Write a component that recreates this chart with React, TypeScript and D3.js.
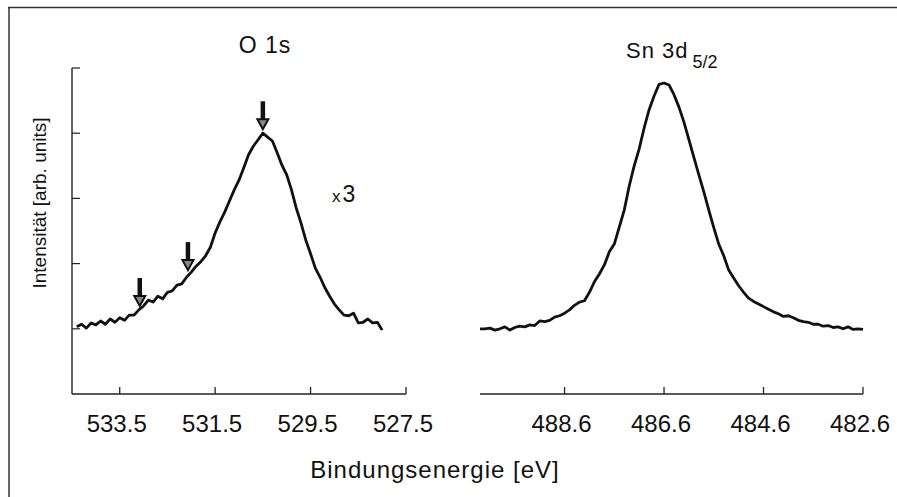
import React from "react";
import * as d3 from "d3";

// O 1s spectrum (binding energy in eV, intensity in arb. units)
const o1sEnergy = [
  534.4, 534.3, 534.2, 534.1, 534.0, 533.9, 533.8, 533.7, 533.6, 533.5,
  533.4, 533.3, 533.2, 533.1, 533.0, 532.9, 532.8, 532.7, 532.6, 532.5,
  532.4, 532.3, 532.2, 532.1, 532.0, 531.9, 531.8, 531.7, 531.6, 531.5,
  531.4, 531.3, 531.2, 531.1, 531.0, 530.9, 530.8, 530.7, 530.6, 530.5,
  530.4, 530.3, 530.2, 530.1, 530.0, 529.9, 529.8, 529.7, 529.6, 529.5,
  529.4, 529.3, 529.2, 529.1, 529.0, 528.9, 528.8, 528.7, 528.6, 528.5,
  528.4, 528.3, 528.2, 528.1, 528.0,
];
const o1sIntensity = [
  103, 107, 101, 109, 106, 112, 107, 115, 110, 117,
  113, 121, 121, 129, 135, 144, 141, 150, 146, 156,
  158, 167, 169, 179, 187, 196, 203, 212, 225, 247,
  264, 279, 296, 313, 328, 347, 367, 380, 390, 400,
  394, 388, 370, 351, 336, 313, 285, 262, 236, 215,
  193, 179, 163, 150, 138, 129, 121, 120, 124, 109,
  110, 115, 109, 110, 98,
];

// Sn 3d5/2 spectrum
const snEnergy = [
  490.3, 490.2, 490.1, 490.0, 489.9, 489.8, 489.7, 489.6, 489.5, 489.4,
  489.3, 489.2, 489.1, 489.0, 488.9, 488.8, 488.7, 488.6, 488.5, 488.4,
  488.3, 488.2, 488.1, 488.0, 487.9, 487.8, 487.7, 487.6, 487.5, 487.4,
  487.3, 487.2, 487.1, 487.0, 486.9, 486.8, 486.7, 486.6, 486.5, 486.4,
  486.3, 486.2, 486.1, 486.0, 485.9, 485.8, 485.7, 485.6, 485.5, 485.4,
  485.3, 485.2, 485.1, 485.0, 484.9, 484.8, 484.7, 484.6, 484.5, 484.4,
  484.3, 484.2, 484.1, 484.0, 483.9, 483.8, 483.7, 483.6, 483.5, 483.4,
  483.3, 483.2, 483.1, 483.0, 482.9, 482.8, 482.7, 482.6,
];
const snIntensity = [
  100, 100, 101, 98, 100, 103, 98, 102, 104, 103,
  106, 105, 112, 111, 113, 118, 120, 124, 129, 136,
  141, 143, 156, 172, 184, 198, 218, 230, 256, 282,
  319, 350, 376, 408, 436, 457, 475, 477, 474, 459,
  440, 417, 390, 363, 336, 310, 282, 255, 230, 212,
  190, 178, 166, 156, 147, 142, 138, 134, 130, 126,
  123, 119, 120, 117, 113, 111, 110, 107, 107, 104,
  105, 102, 103, 100, 103, 99, 100, 99,
];

// Arrows marking components in the O 1s spectrum
const arrowEnergy = [530.5, 532.07, 533.08];
const arrowTip = [406, 190, 135];

const leftTicks = [533.5, 531.5, 529.5, 527.5];
const rightTicks = [488.6, 486.6, 484.6, 482.6];
const yTicks = [100, 200, 300, 400, 500];

const FONT = "'Liberation Sans', Arial, Helvetica, sans-serif";

export default function App() {
  const xL = d3.scaleLinear().domain([534.5, 527.5]).range([72, 406]);
  const xR = d3.scaleLinear().domain([490.3, 482.6]).range([480, 863]);
  const y = d3.scaleLinear().domain([0, 500]).range([394, 68]);

  const lineL = d3
    .line<number>()
    .x((_, i) => xL(o1sEnergy[i]))
    .y((d) => y(d));
  const lineR = d3
    .line<number>()
    .x((_, i) => xR(snEnergy[i]))
    .y((d) => y(d));

  const axisColor = "#222";
  const y0 = y(0);

  return (
    <svg
      width={897}
      height={497}
      style={{ position: "absolute", left: 0, top: 0, background: "#fff" }}
      fontFamily={FONT}
    >
      <rect x={0} y={0} width={897} height={497} fill="#fff" />
      {/* frame */}
      <line x1={8} y1={7.5} x2={897} y2={7.5} stroke="#333" strokeWidth={1.5} />
      <line x1={9} y1={7} x2={9} y2={497} stroke="#333" strokeWidth={1.5} />

      {/* left y axis */}
      <line x1={xL(534.5)} y1={y(500)} x2={xL(534.5)} y2={y0} stroke={axisColor} strokeWidth={1.4} />
      {yTicks.map((t) => (
        <line key={t} x1={xL(534.5)} x2={xL(534.5) + 8} y1={y(t)} y2={y(t)} stroke={axisColor} strokeWidth={1.2} />
      ))}

      {/* left x axis */}
      <line x1={xL(534.5)} x2={xL(527.5)} y1={y0} y2={y0} stroke={axisColor} strokeWidth={1.4} />
      {leftTicks.map((t) => (
        <g key={t}>
          <line x1={xL(t)} x2={xL(t)} y1={y0} y2={y0 - 7} stroke={axisColor} strokeWidth={1.3} />
          <text x={xL(t) - 3} y={432} textAnchor="middle" fontSize={24} fill="#111">
            {t.toFixed(1)}
          </text>
        </g>
      ))}

      {/* right x axis */}
      <line x1={xR(490.3)} x2={xR(482.6)} y1={y0} y2={y0} stroke={axisColor} strokeWidth={1.4} />
      {rightTicks.map((t) => (
        <g key={t}>
          <line x1={xR(t)} x2={xR(t)} y1={y0} y2={y0 - 7} stroke={axisColor} strokeWidth={1.3} />
          <text x={xR(t) - 3} y={432} textAnchor="middle" fontSize={24} fill="#111">
            {t.toFixed(1)}
          </text>
        </g>
      ))}

      {/* curves */}
      <path d={lineL(o1sIntensity) || ""} fill="none" stroke="#111" strokeWidth={2.8} strokeLinejoin="round" />
      <path d={lineR(snIntensity) || ""} fill="none" stroke="#111" strokeWidth={2.8} strokeLinejoin="round" />

      {/* arrows */}
      {arrowEnergy.map((e, i) => {
        const ax = xL(e);
        const ty = y(arrowTip[i]);
        return (
          <g key={e}>
            <line x1={ax} x2={ax} y1={ty - 28} y2={ty - 8} stroke="#111" strokeWidth={4.5} />
            <path
              d={`M${ax - 5.5},${ty - 10} L${ax + 5.5},${ty - 10} L${ax},${ty} Z`}
              fill="#888"
              stroke="#111"
              strokeWidth={2}
              strokeLinejoin="miter"
            />
          </g>
        );
      })}

      {/* titles */}
      <text x={265} y={53} textAnchor="middle" fontSize={23} letterSpacing={1} fill="#111">
        O 1s
      </text>
      <text x={626} y={58} fontSize={22} letterSpacing={1} fill="#111">
        Sn 3d
        <tspan dx={4} dy={10} fontSize={18} letterSpacing={0}>
          5/2
        </tspan>
      </text>
      <text x={332} y={202} fill="#111">
        <tspan fontSize={17}>x</tspan>
        <tspan dx={2} fontSize={23}>3</tspan>
      </text>

      {/* axis titles */}
      <text x={435} y={478} textAnchor="middle" fontSize={24} letterSpacing={1} fill="#111">
        Bindungsenergie [eV]
      </text>
      <text
        transform="translate(46,203) rotate(-90)"
        textAnchor="middle"
        fontSize={19}
        fill="#111"
      >
        Intensität [arb. units]
      </text>
    </svg>
  );
}
